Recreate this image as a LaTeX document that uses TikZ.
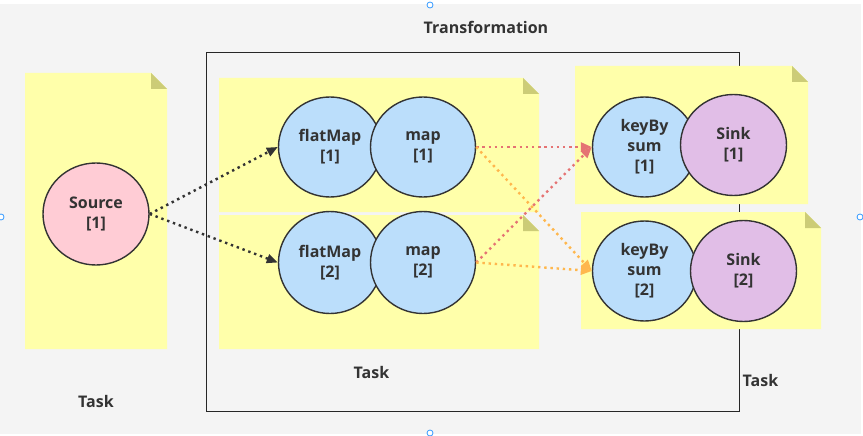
\documentclass[tikz,border=0pt]{standalone}
\usepackage{fontspec}
\setmainfont{Open Sans}
\usetikzlibrary{shapes.geometric,arrows.meta}
\definecolor{bggray}{HTML}{F4F4F4}
\definecolor{noteyellow}{HTML}{FFFFAA}
\definecolor{notefold}{HTML}{CCCC77}
\definecolor{pinkfill}{HTML}{FFCCD5}
\definecolor{bluefill}{HTML}{BBDEFB}
\definecolor{purplefill}{HTML}{E1BEE7}
\definecolor{txt}{HTML}{333333}
\definecolor{redline}{HTML}{E57373}
\definecolor{orangeline}{HTML}{FFB74D}
\definecolor{handleblue}{HTML}{3399FF}
\newcommand\stickynote[4]{%
 \fill[noteyellow] (#1,#2) -- (#3-16,#2) -- (#3,#2+16) -- (#3,#4) -- (#1,#4) -- cycle;
 \fill[notefold] (#3-16,#2) -- (#3-16,#2+16) -- (#3,#2+16) -- cycle;}
\tikzset{
 op/.style={ellipse, draw=txt, line width=1.4pt, inner sep=0pt, align=center, text=txt,
   font=\bfseries\fontsize{16}{20}\selectfont},
 srcop/.style={op, fill=pinkfill},
 blueop/.style={op, fill=bluefill},
 sinkop/.style={op, fill=purplefill},
 lbl/.style={text=txt, font=\bfseries\fontsize{16}{19}\selectfont, inner sep=0pt},
 flow/.style={line width=2.4pt, dash pattern=on 2.4pt off 3.8pt, -{Triangle[length=11pt,width=9pt]}},
 darkflow/.style={flow, draw=txt},
 redflow/.style={flow, draw=redline},
 orangeflow/.style={flow, draw=orangeline},
 handle/.style={circle, draw=handleblue, fill=white, line width=0.8pt, minimum size=6pt, inner sep=0pt}
}
\begin{document}
\begin{tikzpicture}[x=1pt,y=-1pt]
\useasboundingbox (0,0) rectangle (863,436);
\fill[white] (0,0) rectangle (863,436);
\fill[bggray] (0,4) rectangle (861,434);
% container
\node[draw=black!85, line width=1pt, minimum width=533pt, minimum height=358pt, inner sep=0pt] (tbox) at (472.5,232) {};
\node[lbl] (ttitle) at (486,27) {Transformation};
% notes
\stickynote{25}{73}{167}{349}
\stickynote{219}{78}{539}{212}
\stickynote{219}{215}{539}{349}
\stickynote{575}{66}{808}{204}
\stickynote{581}{212}{821}{329}
% operators
\node[srcop, minimum width=106pt, minimum height=102pt] (src) at (96,214) {Source\\{}[1]};
\node[blueop, minimum width=103pt, minimum height=100pt] (fm1) at (330,147) {flatMap\\{}[1]};
\node[blueop, minimum width=105pt, minimum height=100pt] (mp1) at (423,147) {map\\{}[1]};
\node[blueop, minimum width=103pt, minimum height=102pt] (fm2) at (330,262.5) {flatMap\\{}[2]};
\node[blueop, minimum width=105pt, minimum height=102pt] (mp2) at (423,262.5) {map\\{}[2]};
\node[blueop, minimum width=104pt, minimum height=100pt] (kb1) at (644.5,147) {keyBy\\sum\\{}[1]};
\node[sinkop, minimum width=106pt, minimum height=101pt] (sk1) at (733.5,145) {Sink\\{}[1]};
\node[blueop, minimum width=104pt, minimum height=100pt] (kb2) at (644.5,271) {keyBy\\sum\\{}[2]};
\node[sinkop, minimum width=106pt, minimum height=101pt] (sk2) at (743.5,271) {Sink\\{}[2]};
% connectors
\draw[darkflow] (src.east) -- (fm1.west);
\draw[darkflow] (src.east) -- (fm2.west);
\draw[redflow] (mp1.east) -- (kb1.west);
\draw[orangeflow] (mp1.east) -- (kb2.west);
\draw[redflow] (mp2.east) -- (kb1.west);
\draw[orangeflow] (mp2.east) -- (kb2.west);
% task labels
\node[lbl] (task1) at (96,401) {Task};
\node[lbl] (task2) at (371.5,372) {Task};
\node[lbl] (task3) at (760.5,380) {Task};
% selection handles
\node[handle] (h1) at (430,5) {};
\node[handle] (h2) at (1,217) {};
\node[handle] (h3) at (860,217) {};
\node[handle] (h4) at (430,433) {};
\end{tikzpicture}
\end{document}
